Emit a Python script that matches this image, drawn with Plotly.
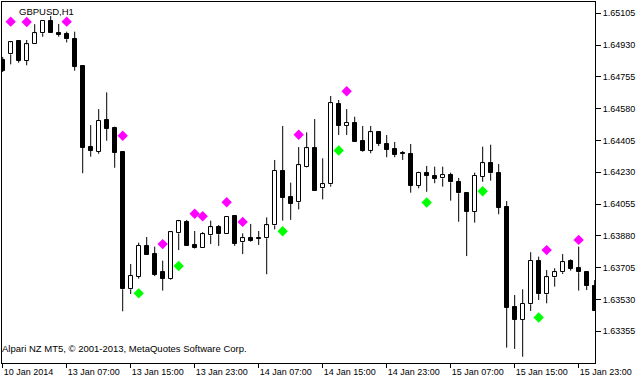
import plotly.graph_objects as go

# ---- data (GBPUSD H1, bar 0 = 10 Jan 2014 23:00) ----
open_ = [1.64848, 1.64879, 1.64953, 1.64844, 1.64934, 1.64995, 1.65063, 1.64998, 1.64993, 1.64964,
         1.64815, 1.64368, 1.64343, 1.64518, 1.64474, 1.64342, 1.63586, 1.63656, 1.63825, 1.63780,
         1.63681, 1.63641, 1.63894, 1.63955, 1.63828, 1.63816, 1.63883, 1.63927, 1.63889, 1.63990,
         1.63845, 1.63868, 1.63868, 1.63867, 1.63938, 1.64237, 1.64094, 1.64065, 1.64261, 1.64362,
         1.64142, 1.64164, 1.64606, 1.64486, 1.64501, 1.64402, 1.64349, 1.64450, 1.64386, 1.64358,
         1.64331, 1.64331, 1.64156, 1.64228, 1.64210, 1.64197, 1.64215, 1.64178, 1.64115, 1.64013,
         1.64206, 1.64283, 1.64228, 1.64037, 1.63490, 1.63417, 1.63504, 1.63742, 1.63559, 1.63652,
         1.63680, 1.63742, 1.63702, 1.63680, 1.63606]
high = [1.64865, 1.64947, 1.64958, 1.64958, 1.65045, 1.65064, 1.65090, 1.65046, 1.65004, 1.65004,
        1.64815, 1.64490, 1.64578, 1.64670, 1.64481, 1.64342, 1.63725, 1.63843, 1.63874, 1.63821,
        1.63744, 1.63907, 1.63968, 1.63968, 1.63907, 1.63901, 1.63964, 1.63940, 1.63986, 1.63995,
        1.63894, 1.63946, 1.63907, 1.63982, 1.64298, 1.64485, 1.64173, 1.64369, 1.64450, 1.64523,
        1.64307, 1.64650, 1.64628, 1.64578, 1.64536, 1.64485, 1.64485, 1.64457, 1.64435, 1.64397,
        1.64347, 1.64386, 1.64233, 1.64265, 1.64261, 1.64261, 1.64228, 1.64199, 1.64115, 1.64228,
        1.64371, 1.64382, 1.64276, 1.64072, 1.63555, 1.63586, 1.63790, 1.63766, 1.63692, 1.63702,
        1.63780, 1.63751, 1.63821, 1.63682, 1.63637]
low = [1.64782, 1.64824, 1.64833, 1.64819, 1.64934, 1.64976, 1.64997, 1.64976, 1.64945, 1.64789,
       1.64225, 1.64316, 1.64332, 1.64404, 1.64255, 1.63465, 1.63560, 1.63645, 1.63775, 1.63659,
       1.63579, 1.63637, 1.63802, 1.63825, 1.63810, 1.63815, 1.63835, 1.63825, 1.63889, 1.63825,
       1.63780, 1.63848, 1.63830, 1.63669, 1.63916, 1.63964, 1.63968, 1.64026, 1.64257, 1.64127,
       1.64081, 1.64151, 1.64435, 1.64435, 1.64397, 1.64343, 1.64335, 1.64375, 1.64313, 1.64313,
       1.64298, 1.64118, 1.64142, 1.64123, 1.64170, 1.64151, 1.64074, 1.63958, 1.63769, 1.63953,
       1.64178, 1.64184, 1.63999, 1.63265, 1.63258, 1.63215, 1.63467, 1.63527, 1.63509, 1.63601,
       1.63670, 1.63689, 1.63579, 1.63582, 1.63467]
close = [1.64789, 1.64945, 1.64843, 1.64934, 1.64995, 1.65064, 1.64998, 1.64987, 1.64962, 1.64811,
         1.64365, 1.64349, 1.64512, 1.64468, 1.64338, 1.63586, 1.63659, 1.63825, 1.63777, 1.63667,
         1.63645, 1.63900, 1.63960, 1.63826, 1.63813, 1.63889, 1.63927, 1.63889, 1.63986, 1.63837,
         1.63867, 1.63854, 1.63864, 1.63938, 1.64237, 1.64090, 1.64057, 1.64269, 1.64362, 1.64129,
         1.64164, 1.64610, 1.64486, 1.64501, 1.64398, 1.64349, 1.64450, 1.64386, 1.64353, 1.64325,
         1.64331, 1.64156, 1.64228, 1.64211, 1.64195, 1.64214, 1.64175, 1.64115, 1.64013, 1.64210,
         1.64280, 1.64225, 1.64035, 1.63485, 1.63417, 1.63505, 1.63742, 1.63560, 1.63652, 1.63680,
         1.63735, 1.63698, 1.63680, 1.63606, 1.63467]

# fractal-style markers
up_idx = [1, 3, 8, 15, 20, 24, 25, 28, 30, 37, 43, 68, 72]
up_val = [1.65059, 1.65057, 1.65059, 1.64431, 1.63835, 1.64002, 1.63988, 1.64065, 1.63957,
          1.64437, 1.64676, 1.63802, 1.63858]
dn_idx = [17, 22, 35, 42, 53, 60, 67]
dn_val = [1.63564, 1.63714, 1.63906, 1.64350, 1.64064, 1.64126, 1.63431]

# axis ticks
x_tick_idx = [0, 8, 16, 24, 32, 40, 48, 56, 64, 72]
x_tick_text = ["10 Jan 2014", "13 Jan 07:00", "13 Jan 15:00", "13 Jan 23:00", "14 Jan 07:00",
               "14 Jan 15:00", "14 Jan 23:00", "15 Jan 07:00", "15 Jan 15:00", "15 Jan 23:00"]
y_ticks = [1.63355, 1.63530, 1.63705, 1.63880, 1.64055, 1.64230, 1.64405, 1.64580, 1.64755,
           1.64930, 1.65105]

# ---- build ----
n = len(open_)
xs = list(range(n))
eps = 0.00003
base = [min(o, c) for o, c in zip(open_, close)]
height = [max(abs(c - o), eps) for o, c in zip(open_, close)]
colors = ["white" if c > o else "black" for o, c in zip(open_, close)]

wx, wy = [], []
for i in range(n):
    top = max(open_[i], close[i])
    bot = min(open_[i], close[i])
    if high[i] > top:
        wx += [i, i, None]
        wy += [top, high[i], None]
    if low[i] < bot:
        wx += [i, i, None]
        wy += [bot, low[i], None]

fig = go.Figure()
fig.add_trace(go.Scatter(x=wx, y=wy, mode="lines", line=dict(color="black", width=1),
                         hoverinfo="skip", showlegend=False))
fig.add_trace(go.Bar(x=xs, y=height, base=base, width=0.5,
                     marker=dict(color=colors, line=dict(color="black", width=1)),
                     showlegend=False))
fig.add_trace(go.Scatter(x=up_idx, y=up_val, mode="markers",
                         marker=dict(symbol="diamond", size=8, color="#FF00FF", line=dict(width=0)),
                         showlegend=False))
fig.add_trace(go.Scatter(x=dn_idx, y=dn_val, mode="markers",
                         marker=dict(symbol="diamond", size=8, color="#00FF00", line=dict(width=0)),
                         showlegend=False))

font = "Liberation Sans, Arial, sans-serif"
fig.update_layout(
    width=644, height=380,
    margin=dict(l=2, r=49, t=2, b=17),
    paper_bgcolor="white", plot_bgcolor="white",
    font=dict(family=font, size=9, color="black"),
    showlegend=False,
    bargap=0,
    xaxis=dict(range=[-0.0875, 74.04], showgrid=False, zeroline=False,
               showline=True, mirror=True, linecolor="black", linewidth=1,
               ticks="outside", ticklen=4, tickcolor="black", tickwidth=1,
               tickvals=x_tick_idx, ticktext=x_tick_text,
               ticklabelposition="outside right",
               tickfont=dict(family=font, size=9, color="black")),
    yaxis=dict(range=[1.631806, 1.651672], side="right", showgrid=False, zeroline=False,
               showline=True, mirror=True, linecolor="black", linewidth=1,
               ticks="outside", ticklen=5, tickcolor="black", tickwidth=1,
               tickvals=y_ticks, tickformat=".5f",
               tickfont=dict(family=font, size=9, color="black")),
    annotations=[
        dict(text="GBPUSD,H1", xref="paper", yref="paper", x=0.025, y=0.9945,
             xanchor="left", yanchor="top", showarrow=False,
             font=dict(family=font, size=9.5, color="black")),
        dict(text="Alpari NZ MT5, © 2001-2013, MetaQuotes Software Corp.", xref="paper",
             yref="paper", x=0.0, y=0.0194, xanchor="left", yanchor="bottom", showarrow=False,
             xshift=-2, font=dict(family=font, size=9.5, color="black")),
    ],
)

fig.write_html("out.html")
